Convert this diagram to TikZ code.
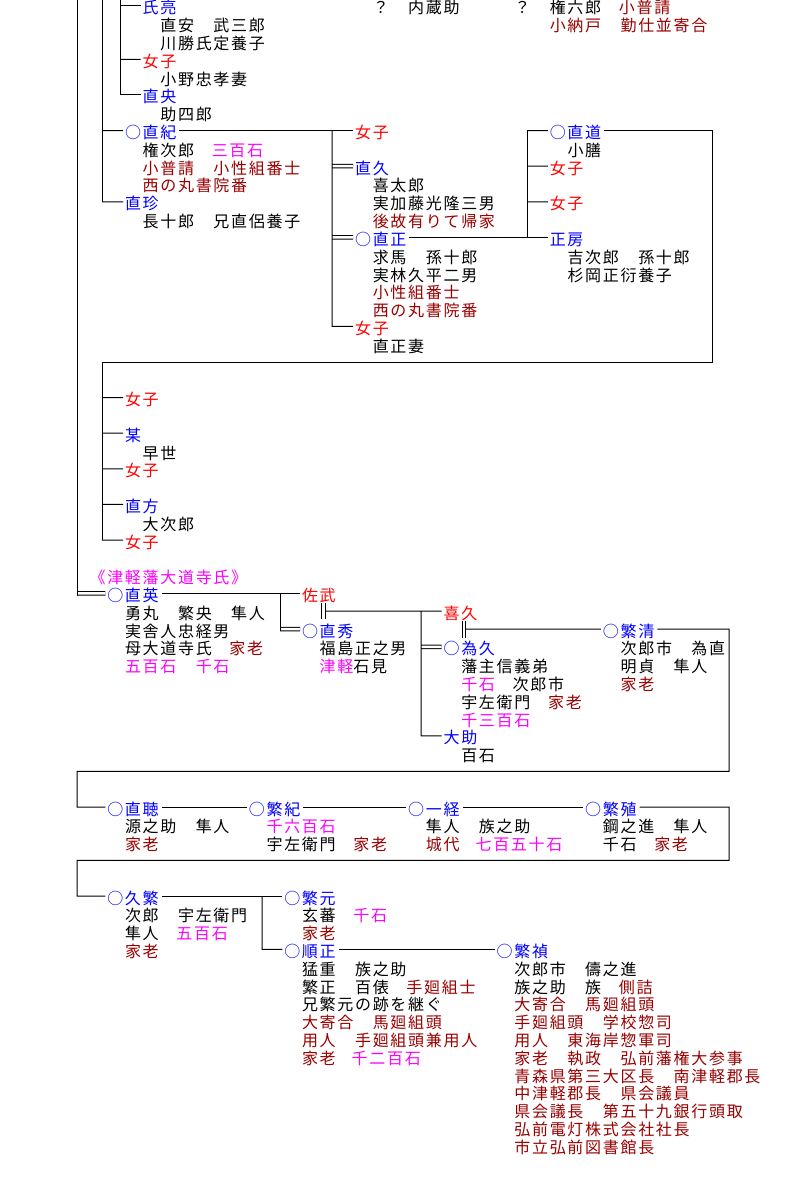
\documentclass[tikz,border=0pt]{standalone}
\usepackage{fontspec}
\newfontfamily\jpfont[LetterSpace=10.6]{Noto Sans CJK JP}
\definecolor{cblue}{RGB}{0,0,255}
\definecolor{cred}{RGB}{255,0,0}
\definecolor{cdark}{RGB}{153,0,0}
\definecolor{cmag}{RGB}{255,0,255}
\newcommand\cB[1]{\textcolor{cblue}{#1}}
\newcommand\cR[1]{\textcolor{cred}{#1}}
\newcommand\cD[1]{\textcolor{cdark}{#1}}
\newcommand\cM[1]{\textcolor{cmag}{#1}}
\newcommand\TL[4]{\node[txt] (#1) at ({125+17.7*(#2)},{14+17.8*(#3)}) {#4};}
\tikzset{
  txt/.style={anchor=base west, inner sep=0pt, outer sep=0pt, font=\jpfont\fontsize{16}{18}\selectfont},
  ln/.style={line width=1pt, black},
  dbl/.style={double, double distance=2.5pt},
  ll/.style={xshift=-2pt, yshift=8pt},
  rr/.style={xshift=3pt, yshift=8pt}
}
\begin{document}
\begin{tikzpicture}[x=1pt,y=-1pt]
\fill[white] (0,0) rectangle (794,1190);
\useasboundingbox (0,0) rectangle (794,1190);
% ---- top left
\TL{shiryo}{1}{0}{\cB{氏亮}}
\TL{shiryoA}{2}{1}{直安　武三郎}
\TL{shiryoB}{2}{2}{川勝氏定養子}
\TL{jo1}{1}{3}{\cR{女子}}
\TL{jo1A}{2}{4}{小野忠孝妻}
\TL{naoou}{1}{5}{\cB{直央}}
\TL{naoouA}{2}{6}{助四郎}
\TL{qa}{14}{0}{？　内蔵助}
\TL{qb}{22}{0}{？　権六郎　\cD{小普請}}
\TL{qbA}{24}{1}{\cD{小納戸　勤仕並寄合}}
\TL{naonori}{0}{7}{\cB{○直紀}}
\TL{naonoriA}{1}{8}{権次郎　\cM{三百石}}
\TL{naonoriB}{1}{9}{\cD{小普請　小性組番士}}
\TL{naonoriC}{1}{10}{\cD{西の丸書院番}}
\TL{naotaka}{0}{11}{\cB{直珍}}
\TL{naotakaA}{1}{12}{長十郎　兄直侶養子}
% ---- middle group
\TL{jo2}{13}{7}{\cR{女子}}
\TL{naoku}{13}{9}{\cB{直久}}
\TL{naokuA}{14}{10}{喜太郎}
\TL{naokuB}{14}{11}{実加藤光隆三男}
\TL{naokuC}{14}{12}{\cD{後故有りて帰家}}
\TL{naomasa}{13}{13}{\cB{○直正}}
\TL{naomasaA}{14}{14}{求馬　孫十郎}
\TL{naomasaB}{14}{15}{実林久平二男}
\TL{naomasaC}{14}{16}{\cD{小性組番士}}
\TL{naomasaD}{14}{17}{\cD{西の丸書院番}}
\TL{jo3}{13}{18}{\cR{女子}}
\TL{jo3A}{14}{19}{直正妻}
\TL{naomichi}{24}{7}{\cB{○直道}}
\TL{naomichiA}{25}{8}{小膳}
\TL{jo4}{24}{9}{\cR{女子}}
\TL{jo5}{24}{11}{\cR{女子}}
\TL{masafusa}{24}{13}{\cB{正房}}
\TL{masafusaA}{25}{14}{吉次郎　孫十郎}
\TL{masafusaB}{25}{15}{杉岡正衍養子}
% ---- lower left list
\TL{jo6}{0}{22}{\cR{女子}}
\TL{bou}{0}{24}{\cB{某}}
\TL{bouA}{1}{25}{早世}
\TL{jo7}{0}{26}{\cR{女子}}
\TL{naokata}{0}{28}{\cB{直方}}
\TL{naokataA}{1}{29}{大次郎}
\TL{jo8}{0}{30}{\cR{女子}}
% ---- Daidoji
\TL{title}{-2}{32}{\cM{《津軽藩大道寺氏》}}
\TL{naohide}{-1}{33}{\cB{○直英}}
\TL{naohideA}{0}{34}{勇丸　繁央　隼人}
\TL{naohideB}{0}{35}{実舎人忠経男}
\TL{naohideC}{0}{36}{母大道寺氏　\cD{家老}}
\TL{naohideD}{0}{37}{\cM{五百石　千石}}
\TL{satake}{10}{33}{\cR{佐武}}
\TL{naoshu}{10}{35}{\cB{○直秀}}
\TL{naoshuA}{11}{36}{福島正之男}
\TL{naoshuB}{11}{37}{\cM{津軽}石見}
\TL{kiku}{18}{34}{\cR{喜久}}
\TL{tamehisa}{18}{36}{\cB{○為久}}
\TL{tamehisaA}{19}{37}{藩主信義弟}
\TL{tamehisaB}{19}{38}{\cM{千石}　次郎市}
\TL{tamehisaC}{19}{39}{宇左衛門　\cD{家老}}
\TL{tamehisaD}{19}{40}{\cM{千三百石}}
\TL{daisuke}{18}{41}{\cB{大助}}
\TL{daisukeA}{19}{42}{百石}
\TL{shigekiyo}{27}{35}{\cB{○繁清}}
\TL{shigekiyoA}{28}{36}{次郎市　為直}
\TL{shigekiyoB}{28}{37}{明貞　隼人}
\TL{shigekiyoC}{28}{38}{\cD{家老}}
% ---- row 45
\TL{naoaki}{-1}{45}{\cB{○直聴}}
\TL{naoakiA}{0}{46}{源之助　隼人}
\TL{naoakiB}{0}{47}{\cD{家老}}
\TL{shigenori}{7}{45}{\cB{○繁紀}}
\TL{shigenoriA}{8}{46}{\cM{千六百石}}
\TL{shigenoriB}{8}{47}{宇左衛門　\cD{家老}}
\TL{kazutsune}{16}{45}{\cB{○一経}}
\TL{kazutsuneA}{17}{46}{隼人　族之助}
\TL{kazutsuneB}{17}{47}{\cD{城代}　\cM{七百五十石}}
\TL{shigeshoku}{26}{45}{\cB{○繁殖}}
\TL{shigeshokuA}{27}{46}{鋼之進　隼人}
\TL{shigeshokuB}{27}{47}{千石　\cD{家老}}
% ---- row 50
\TL{hisashige}{-1}{50}{\cB{○久繁}}
\TL{hisashigeA}{0}{51}{次郎　宇左衛門}
\TL{hisashigeB}{0}{52}{隼人　\cM{五百石}}
\TL{hisashigeC}{0}{53}{\cD{家老}}
\TL{shigemoto}{9}{50}{\cB{○繁元}}
\TL{shigemotoA}{10}{51}{玄蕃　\cM{千石}}
\TL{shigemotoB}{10}{52}{\cD{家老}}
\TL{junsei}{9}{53}{\cB{○順正}}
\TL{junseiA}{10}{54}{猛重　族之助}
\TL{junseiB}{10}{55}{繁正　百俵　\cD{手廻組士}}
\TL{junseiC}{10}{56}{兄繁元の跡を継ぐ}
\TL{junseiD}{10}{57}{\cD{大寄合　馬廻組頭}}
\TL{junseiE}{10}{58}{\cD{用人　手廻組頭兼用人}}
\TL{junseiF}{10}{59}{\cD{家老}　\cM{千二百石}}
\TL{shigesada}{21}{53}{\cB{○繁禎}}
\TL{shigesadaA}{22}{54}{次郎市　儔之進}
\TL{shigesadaB}{22}{55}{族之助　族　\cD{側詰}}
\TL{shigesadaC}{22}{56}{\cD{大寄合　馬廻組頭}}
\TL{shigesadaD}{22}{57}{\cD{手廻組頭　学校惣司}}
\TL{shigesadaE}{22}{58}{\cD{用人　東海岸惣軍司}}
\TL{shigesadaF}{22}{59}{\cD{家老　執政　弘前藩権大参事}}
\TL{shigesadaG}{22}{60}{\cD{青森県第三大区長　南津軽郡長}}
\TL{shigesadaH}{22}{61}{\cD{中津軽郡長　県会議員}}
\TL{shigesadaI}{22}{62}{\cD{県会議長　第五十九銀行頭取}}
\TL{shigesadaJ}{22}{63}{\cD{弘前電灯株式会社社長}}
\TL{shigesadaK}{22}{64}{\cD{市立弘前図書館長}}
% ================= connectors
% double lines first (verticals drawn over them)
\draw[ln,dbl] (332,166.2) -- ([ll]naoku.base west);
\draw[ln,dbl] (332,237.4) -- ([ll]naomasa.base west);
\draw[ln,dbl] (77,593.4) -- ([ll]naohide.base west);
\draw[ln,dbl] (280,629) -- ([ll]naoshu.base west);
\draw[ln,dbl] (421,646.8) -- ([ll]tamehisa.base west);
\draw[ln,dbl] (323.25,603) -- (323.25,619);
\draw[ln,dbl] (464,621) -- (464,638);
% top-left verticals
\draw[ln] (77,0) -- (77,595.65);
\draw[ln] (102,0) -- (102,201.8);
\draw[ln] (120,0) -- (120,95);
\draw[ln] (120,6) -- ([ll]shiryo.base west);
\draw[ln] (120,59.4) -- ([ll]jo1.base west);
\draw[ln] (120,95) -- ([ll]naoou.base west);
\draw[ln] (102,130.6) -- ([ll]naonori.base west);
\draw[ln] (102,201.8) -- ([ll]naotaka.base west);
% Naonori's children
\draw[ln] ([rr]naonori.base east) -- ([ll]jo2.base west);
\draw[ln] (332,130.6) -- (332,326.4) -- ([ll]jo3.base west);
% Naomasa's children
\draw[ln] ([rr]naomasa.base east) -- ([ll]masafusa.base west);
\draw[ln] (527,130.6) -- (527,237.4);
\draw[ln] (527,130.6) -- ([ll]naomichi.base west);
\draw[ln] (527,166.2) -- ([ll]jo4.base west);
\draw[ln] (527,201.8) -- ([ll]jo5.base west);
% Naomichi's children
\draw[ln] ([rr]naomichi.base east) -| (712,362) -| (102,540);
\draw[ln] (102,397.6) -- ([ll]jo6.base west);
\draw[ln] (102,433.2) -- ([ll]bou.base west);
\draw[ln] (102,468.8) -- ([ll]jo7.base west);
\draw[ln] (102,504.4) -- ([ll]naokata.base west);
\draw[ln] (102,540) -- ([ll]jo8.base west);
% Daidoji
\draw[ln] ([rr]naohide.base east) -- ([ll]satake.base west);
\draw[ln] (280,593.4) -- (280,630.75);
\draw[ln] (325,611.2) -- ([ll]kiku.base west);
\draw[ln] (421,611.2) -- (421,735.8) -- ([ll]daisuke.base west);
\draw[ln] (465.75,629) -- ([ll]shigekiyo.base west);
\draw[ln] ([rr]shigekiyo.base east) -| (729,771.4) -| (77,807) -- ([ll]naoaki.base west);
\draw[ln] ([rr]naoaki.base east) -- ([ll]shigenori.base west);
\draw[ln] ([rr]shigenori.base east) -- ([ll]kazutsune.base west);
\draw[ln] ([rr]kazutsune.base east) -- ([ll]shigeshoku.base west);
\draw[ln] ([rr]shigeshoku.base east) -| (729,860.4) -| (77,896) -- ([ll]hisashige.base west);
\draw[ln] ([rr]hisashige.base east) -- ([ll]shigemoto.base west);
\draw[ln] (262,896) -- (262,949.4) -- ([ll]junsei.base west);
\draw[ln] ([rr]junsei.base east) -- ([ll]shigesada.base west);
\end{tikzpicture}
\end{document}
